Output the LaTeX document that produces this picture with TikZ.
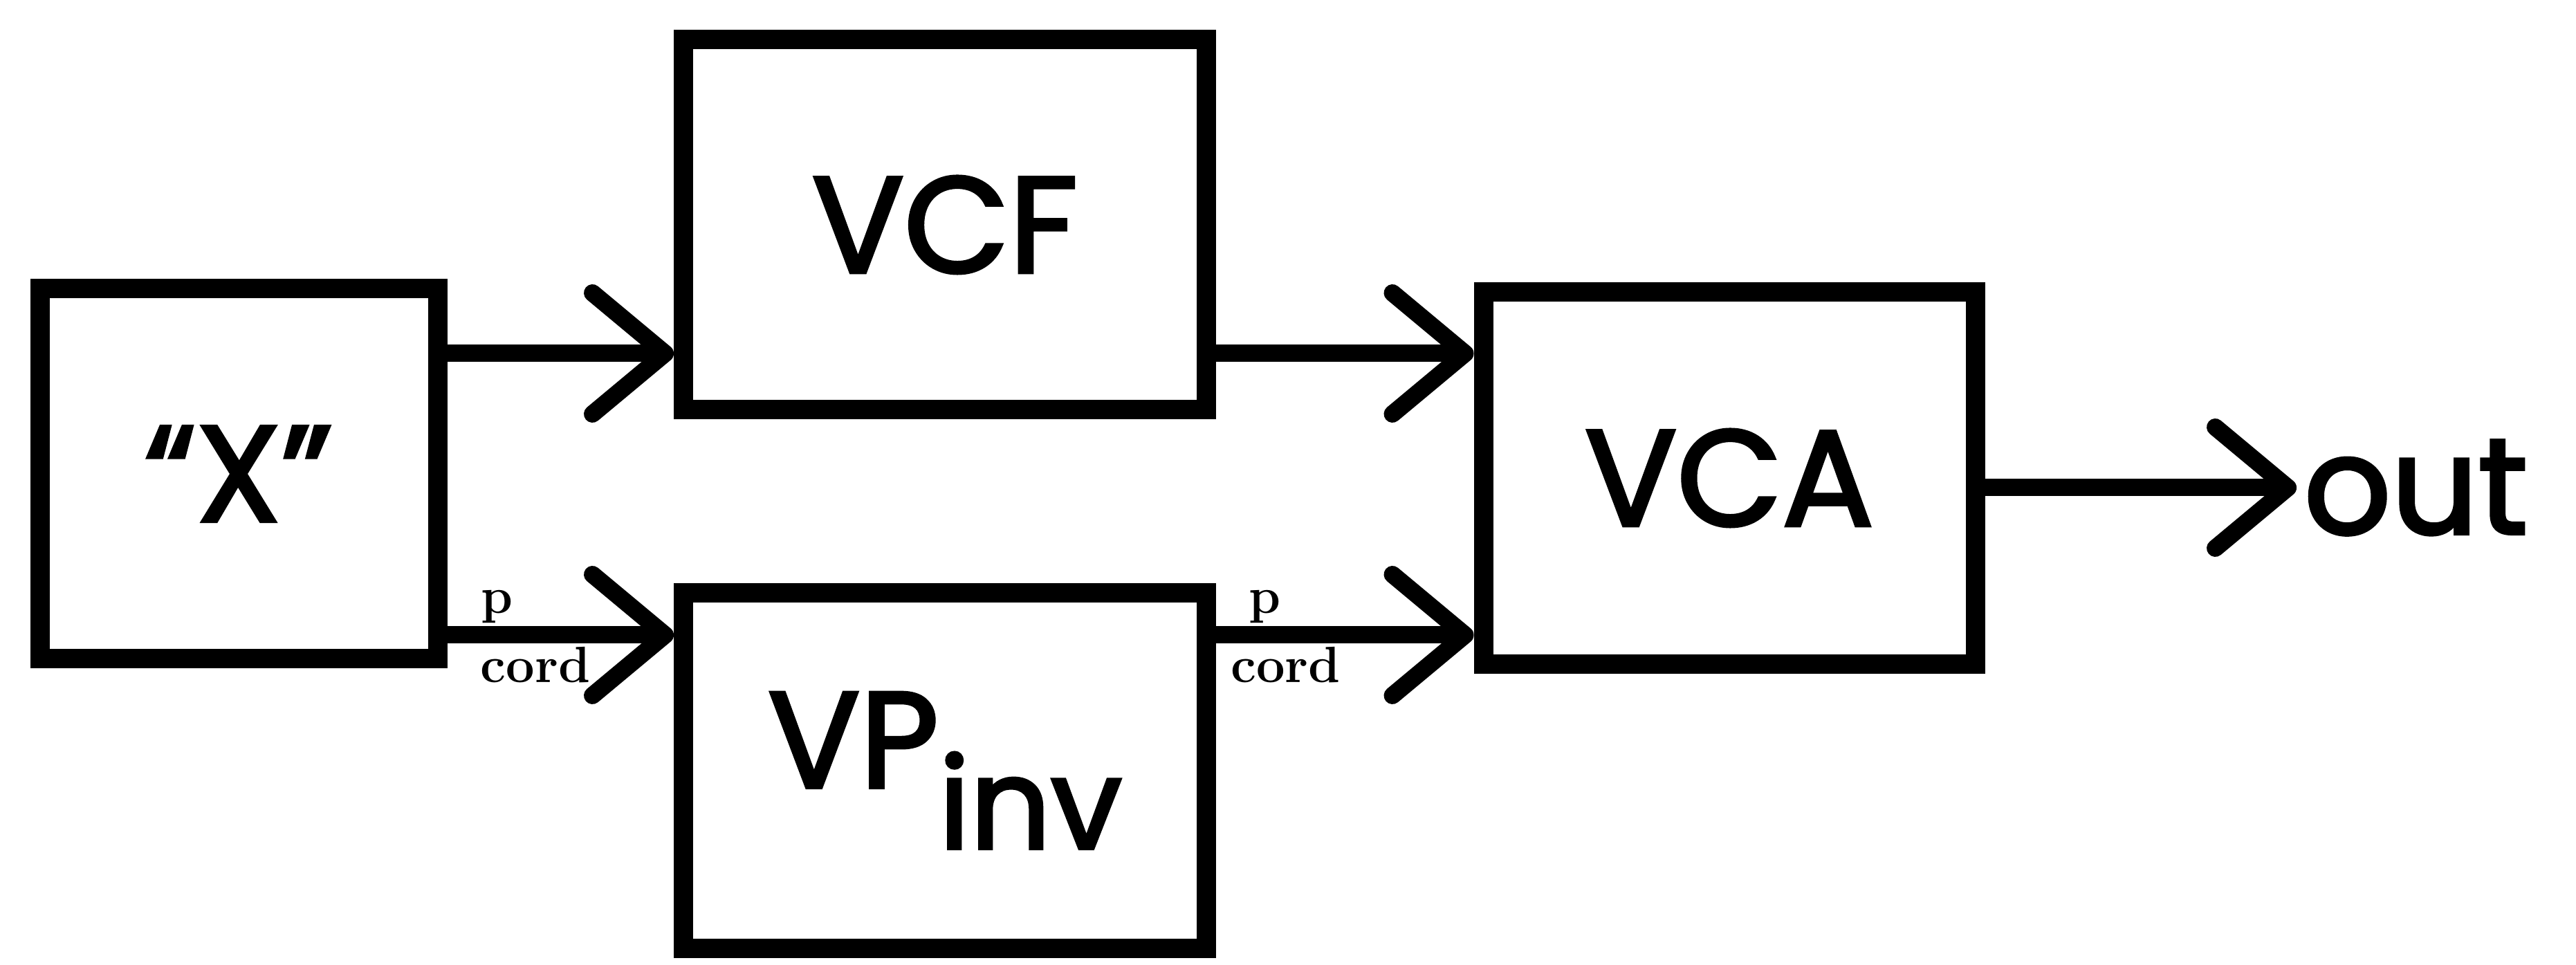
\documentclass[tikz,border=0pt]{standalone}
\usepackage{fontspec}
\usetikzlibrary{arrows.meta}
\newfontfamily\hand{Poppins}[FakeBold=2.5]
\definecolor{ink}{HTML}{000000}

\begin{document}
\begin{tikzpicture}[
  blk/.style={rectangle,draw=ink,line width=0.28cm,inner sep=0pt,text=ink,font=\hand\fontsize{56}{60}\selectfont},
  sig/.style={-{Straight Barb[length=1.05cm,width=1.75cm,line join=round,line cap=round]},line width=0.25cm,draw=ink,line cap=round},
  tag/.style={inner sep=0.05cm,text=ink,font=\bfseries\fontsize{21}{22}\selectfont},
]
  \useasboundingbox (0,0) rectangle (37.24,13.95);
  \node[blk,minimum width=5.75cm,minimum height=5.35cm] (x) at (3.45,7.10) {“X”};
  \node[blk,minimum width=7.56cm,minimum height=5.35cm] (vcf) at (13.66,10.70) {VCF};
  \node[blk,minimum width=7.56cm,minimum height=5.14cm] (vpinv) at (13.66,2.81) {VP\raisebox{-0.45em}{\fontsize{52}{52}\selectfont inv}};
  \node[blk,minimum width=7.11cm,minimum height=5.38cm] (vca) at (25.00,7.04) {VCA};
  \node[inner sep=0.1cm,anchor=west,text=ink,font=\hand\fontsize{56}{60}\selectfont] (out) at (33.20,6.90) {out};

  \draw[sig] ([yshift=1.74cm]x.east) -- ([yshift=1.74cm]x.east -| vcf.west);
  \draw[sig] ([yshift=-2.33cm]x.east) -- ([yshift=-2.33cm]x.east -| vpinv.west)
    node[tag,above,pos=0.22] (p1) {p}
    node[tag,below,pos=0.39] (c1) {cord};
  \draw[sig] ([yshift=-1.86cm]vcf.east) -- ([yshift=-1.86cm]vcf.east -| vca.west);
  \draw[sig] ([yshift=1.96cm]vpinv.east) -- ([yshift=1.96cm]vpinv.east -| vca.west)
    node[tag,above,pos=0.19] (p2) {p}
    node[tag,below,pos=0.27] (c2) {cord};
  \draw[sig] ([yshift=-0.14cm]vca.east) -- (out.west);
\end{tikzpicture}
\end{document}
